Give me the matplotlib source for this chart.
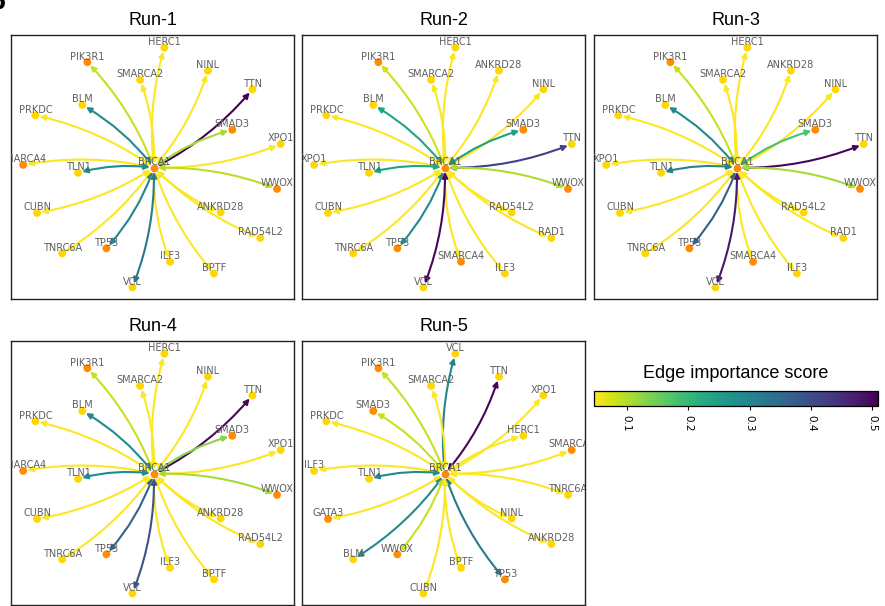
import matplotlib
matplotlib.use('Agg')
import matplotlib.pyplot as plt
from matplotlib.patches import FancyArrowPatch
from matplotlib.colors import Normalize
from matplotlib.cm import ScalarMappable

# shared layout: slot 0 is the hub (BRCA1), slots 1..20 are its neighbours
slot_x = [0.505, 0.542, 0.270, 0.456, 0.696, 0.853, 0.252, 0.086, 0.782, 0.953, 0.043,
          0.237, 0.940, 0.092, 0.741, 0.881, 0.181, 0.337, 0.562, 0.717, 0.429]
slot_y = [0.497, 0.952, 0.897, 0.830, 0.865, 0.794, 0.735, 0.696, 0.641, 0.587, 0.508,
          0.478, 0.417, 0.326, 0.328, 0.231, 0.173, 0.192, 0.141, 0.097, 0.044]
# edge direction (+1 hub->gene, -1 gene->hub), decides which way the edge bends
edge_dir = [0, -1, 1, 1, 1, 1, 1, 1, -1, 1, 1, 1, -1, -1, 1, 1, -1, -1, 1, 1, -1]

genes_a = ['BRCA1', 'HERC1', 'PIK3R1', 'SMARCA2', 'NINL', 'TTN', 'BLM', 'PRKDC', 'SMAD3', 'XPO1',
           'SMARCA4', 'TLN1', 'WWOX', 'CUBN', 'ANKRD28', 'RAD54L2', 'TNRC6A', 'TP53', 'ILF3', 'BPTF', 'VCL']
genes_b = ['BRCA1', 'HERC1', 'PIK3R1', 'SMARCA2', 'ANKRD28', 'NINL', 'BLM', 'PRKDC', 'SMAD3', 'TTN',
           'XPO1', 'TLN1', 'WWOX', 'CUBN', 'RAD54L2', 'RAD1', 'TNRC6A', 'TP53', 'SMARCA4', 'ILF3', 'VCL']
genes_c = ['BRCA1', 'VCL', 'PIK3R1', 'SMARCA2', 'TTN', 'XPO1', 'SMAD3', 'PRKDC', 'HERC1', 'SMARCA4',
           'ILF3', 'TLN1', 'TNRC6A', 'GATA3', 'NINL', 'ANKRD28', 'BLM', 'WWOX', 'BPTF', 'TP53', 'CUBN']

# edge importance scores, slots 1..20
score_run1 = [0.05, 0.085, 0.05, 0.05, 0.509, 0.29, 0.05, 0.11, 0.05, 0.05,
              0.29, 0.095, 0.05, 0.05, 0.05, 0.05, 0.30, 0.05, 0.05, 0.32]
score_run2 = [0.05, 0.08, 0.05, 0.05, 0.05, 0.24, 0.05, 0.25, 0.42, 0.05,
              0.24, 0.10, 0.05, 0.05, 0.05, 0.05, 0.29, 0.05, 0.05, 0.50]
score_run3 = [0.05, 0.085, 0.05, 0.05, 0.05, 0.29, 0.05, 0.18, 0.50, 0.05,
              0.30, 0.11, 0.05, 0.05, 0.05, 0.05, 0.37, 0.05, 0.05, 0.48]
score_run4 = [0.05, 0.085, 0.05, 0.05, 0.50, 0.29, 0.05, 0.13, 0.05, 0.05,
              0.29, 0.11, 0.05, 0.05, 0.05, 0.05, 0.36, 0.05, 0.05, 0.39]
score_run5 = [0.30, 0.085, 0.05, 0.50, 0.05, 0.085, 0.05, 0.05, 0.05, 0.05,
              0.29, 0.05, 0.05, 0.05, 0.05, 0.29, 0.085, 0.05, 0.32, 0.05]

orange_genes = ['BRCA1', 'PIK3R1', 'SMAD3', 'SMARCA4', 'WWOX', 'TP53', 'GATA3']

runs = [('Run-1', genes_a, score_run1), ('Run-2', genes_b, score_run2), ('Run-3', genes_b, score_run3),
        ('Run-4', genes_a, score_run4), ('Run-5', genes_c, score_run5)]

smin, smax = 0.047, 0.509
cmap = plt.get_cmap('viridis_r')
norm = Normalize(vmin=smin, vmax=smax)

W, H = 885, 606
fig = plt.figure(figsize=(W / 100, H / 100), dpi=100)

lefts = [11, 302, 594]
tops = [35, 341]
pw, ph = 283, 264

for k, (title, genes, scores) in enumerate(runs):
    row, col = divmod(k, 3)
    sub = fig.add_axes([lefts[col] / W, (H - tops[row] - ph) / H, pw / W, ph / H])
    sub.set_xlim(0, 1)
    sub.set_ylim(0, 1)
    sub.set_xticks([])
    sub.set_yticks([])
    for s in sub.spines.values():
        s.set_linewidth(1.0)
        s.set_color('#222222')
    sub.set_title(title, fontsize=13, family='Liberation Sans', pad=7)

    for i in range(1, len(genes)):
        arr = FancyArrowPatch((slot_x[0], slot_y[0]), (slot_x[i], slot_y[i]),
                              connectionstyle='arc3,rad=%.2f' % (0.1 * edge_dir[i]),
                              arrowstyle='<|-|>', mutation_scale=8, lw=1.5,
                              color=cmap(norm(scores[i - 1])), shrinkA=3, shrinkB=3, zorder=1)
        sub.add_patch(arr)

    node_col = ['darkorange' if g in orange_genes else 'gold' for g in genes]
    sub.scatter(slot_x[1:], slot_y[1:], s=32, c=node_col[1:], linewidths=0, zorder=2)
    sub.scatter(slot_x[:1], slot_y[:1], s=32, c=node_col[:1], linewidths=0, zorder=4)
    for g, x, y in zip(genes, slot_x, slot_y):
        sub.text(x, y + 0.021, g, ha='center', va='center', fontsize=7, color='#5f5f5f',
                 clip_on=True, zorder=3)

# colorbar in the empty sixth slot
cax = fig.add_axes([594 / W, (H - 406) / H, 284 / W, 15 / H])
cb = fig.colorbar(ScalarMappable(norm=norm, cmap=cmap), cax=cax, orientation='horizontal')
cb.set_ticks([0.1, 0.2, 0.3, 0.4, 0.5])
cb.ax.tick_params(labelsize=7.5, length=3, width=0.8)
for t in cb.ax.get_xticklabels():
    t.set_rotation(-90)
cb.outline.set_linewidth(0.9)
cb.ax.set_title('Edge importance score', fontsize=13, family='Liberation Sans', pad=9)

# panel letter, mostly outside the figure as in the original
fig.text(-0.012, 0.985, 'b', fontsize=16, fontweight='bold', ha='left', va='baseline')

fig.savefig('out.png', dpi=100)
